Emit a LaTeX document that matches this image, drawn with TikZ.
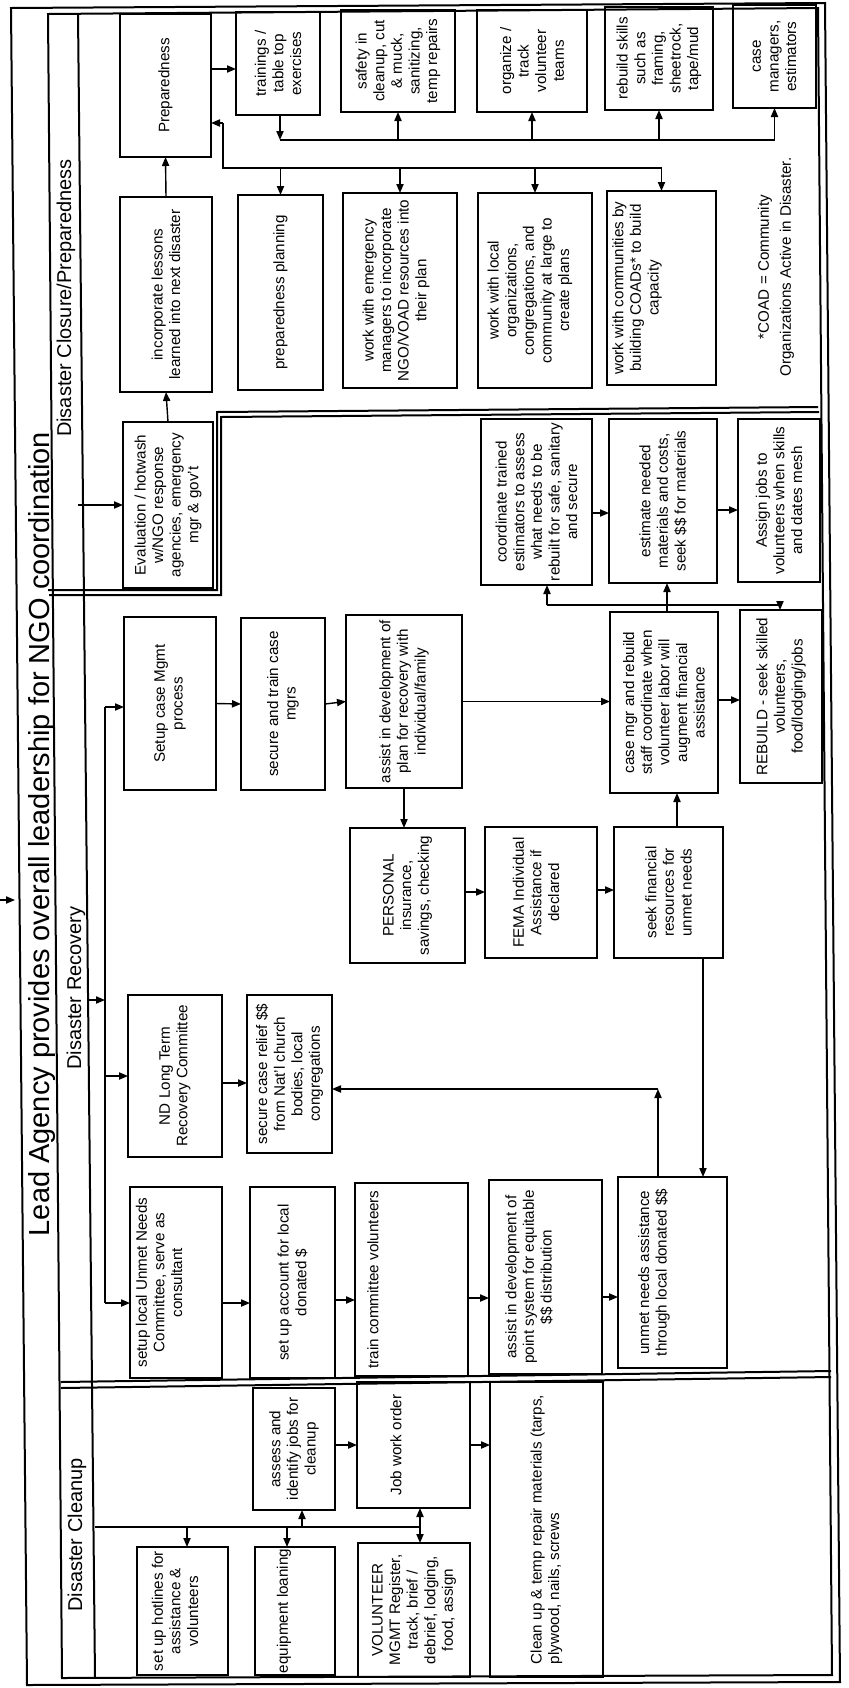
\documentclass[tikz,border=0pt]{standalone}
\usepackage{fontspec}
\setmainfont{Liberation Sans}
\usetikzlibrary{arrows.meta}
\tikzset{
  bx/.style={draw, line width=0.9pt, rotate=90, inner sep=1pt, outer sep=0pt, align=center, font=\fontsize{7.6}{8.8}\selectfont},
  txt/.style={rotate=90, inner sep=0pt, align=center, font=\fontsize{7.6}{8.8}\selectfont},
  arr/.style={line width=0.7pt, -{Triangle[length=4.5pt,width=3.6pt]}},
  darr/.style={line width=0.7pt, {Triangle[length=4.5pt,width=3.6pt]}-{Triangle[length=4.5pt,width=3.6pt]}},
  ln/.style={line width=0.7pt},
  frm/.style={line width=1pt},
  hdr/.style={rotate=90, inner sep=0pt, font=\fontsize{10}{12}\selectfont},
}
% box with text centred
\newcommand\mybox[6]{\node[bx, minimum width={(#5-#3)*0.5pt}, minimum height={(#4-#2)*0.5pt}] (#1) at ({(#2+#4)/2},{(#3+#5)/2}) {#6};}
% box with text centred on a given x
\newcommand\myboxt[7]{\node[bx, minimum width={(#5-#3)*0.5pt}, minimum height={(#4-#2)*0.5pt}] (#1) at ({(#2+#4)/2},{(#3+#5)/2}) {};
  \node[txt] (#1t) at ({#6},{(#3+#5)/2}) {#7};}
\begin{document}
\begin{tikzpicture}[x=0.5pt,y=-0.5pt]
\useasboundingbox (0,0) rectangle (849,1688);
\fill[white] (0,0) rectangle (849,1688);
% frame
\draw[frm] (11,8) -- (825,3) -- (840,1682) -- (27,1685) -- cycle;
\draw[frm] (48,14) -- (818,8) -- (832,1675) -- (62,1678) -- cycle;
\draw[frm] (78,14) -- (95,1678);
% section boundaries
\draw[frm] (48,590) -- (217,590) -- (217,412) -- (818,407);
\draw[frm] (49,595) -- (221,595) -- (221,417) -- (819,412);
\draw[frm] (61,1382) -- (831,1371);
\draw[frm] (61,1388) -- (831,1377);
% titles
\node[rotate=90, inner sep=0pt, font=\fontsize{14.5}{17}\selectfont] (title) at (42,834) {Lead Agency provides overall leadership for NGO coordination};
\node[hdr] (hclos) at (66,298) {Disaster Closure/Preparedness};
\node[hdr] (hrec) at (76,988) {Disaster Recovery};
\node[hdr] (hclean) at (77,1535) {Disaster Cleanup};
\coordinate (inarr) at (0,900);
\draw[arr] (inarr) -- (15,900);
% Closure boxes
\mybox{prep}{120}{14}{211}{157}{Preparedness}
\mybox{train}{236}{12}{320}{115}{trainings /\\ table top\\ exercises}
\mybox{safety}{341}{10}{455}{112}{safety in\\ cleanup, cut\\ \& muck,\\ sanitizing,\\ temp repairs}
\mybox{organize}{477}{10}{587}{112}{organize /\\ track\\ volunteer\\ teams}
\mybox{rebuild}{605}{7}{713}{110}{rebuild skills\\ such as\\ framing,\\ sheetrock,\\ tape/mud}
\mybox{casem}{733}{5}{816}{108}{case\\ managers,\\ estimators}
\mybox{incorp}{120}{197}{212}{392}{incorporate lessons\\ learned into next disaster}
\mybox{pplan}{238}{195}{323}{390}{preparedness planning}
\myboxt{emerg}{343}{193}{457}{388}{396}{work with emergency\\ managers to incorporate\\ NGO/VOAD resources into\\ their plan}
\myboxt{locorg}{478}{193}{592}{388}{530}{work with local\\ organizations,\\ congregations, and\\ community at large to\\ create plans}
\myboxt{comm}{607}{191}{716}{385}{637}{work with communities by\\ building COADs* to build\\ capacity}
\node[rotate=90, align=center, font=\fontsize{7.6}{11}\selectfont] (coadnote) at (776,267) {*COAD = Community\\ Organizations Active in Disaster.};
\mybox{eval}{123}{422}{213}{588}{Evaluation / hotwash\\ w/NGO response\\ agencies, emergency\\ mgr \& gov't}
% Recovery boxes
\mybox{casemg}{124}{617}{216}{790}{Setup case Mgmt\\ process}
\mybox{sectrain}{241}{618}{325}{790}{secure and train case\\ mgrs}
\mybox{assistp}{346}{615}{462}{788}{assist in development of\\ plan for recovery with\\ individual/family}
\mybox{coord}{481}{419}{592}{585}{coordinate trained\\ estimators to assess\\ what needs to be\\ rebuilt for safe, sanitary\\ and secure}
\mybox{estim}{609}{419}{717}{583}{estimate needed\\ materials and costs,\\ seek \$\$ for materials}
\mybox{assign}{738}{419}{820}{582}{Assign jobs to\\ volunteers when skills\\ and dates mesh}
\mybox{casemgr}{610}{612}{718}{793}{case mgr and rebuild\\ staff coordinate when\\ volunteer labor will\\ augment financial\\ assistance}
\mybox{rebuildn}{740}{610}{822}{783}{REBUILD - seek skilled\\ volunteers,\\ food/lodging/jobs}
\mybox{personal}{350}{828}{465}{963}{PERSONAL\\ insurance,\\ savings, checking}
\myboxt{fema}{485}{827}{597}{958}{536}{FEMA Individual\\ Assistance if\\ declared}
\mybox{seekfin}{614}{827}{723}{958}{seek financial\\ resources for\\ unmet needs}
\mybox{ndltr}{128}{995}{222}{1157}{ND Long Term\\ Recovery Committee}
\mybox{secrel}{247}{995}{332}{1153}{secure case relief \$\$\\ from Nat'l church\\ bodies, local\\ congregations}
\myboxt{setloc}{130}{1187}{222}{1378}{159}{setup local Unmet Needs\\ Committee, serve as\\ consultant}
\mybox{account}{250}{1187}{335}{1378}{set up account for local\\ donated \$}
\myboxt{traincom}{355}{1183}{468}{1376}{373}{train committee volunteers}
\myboxt{pointsys}{489}{1180}{602}{1374}{529}{assist in development of\\ point system for equitable\\ \$\$ distribution}
\myboxt{unmet}{618}{1177}{727}{1368}{654}{unmet needs assistance\\ through local donated \$\$}
% Cleanup boxes
\myboxt{hotl}{137}{1547}{228}{1675}{175}{set up hotlines for\\ assistance \&\\ volunteers}
\myboxt{equip}{255}{1547}{335}{1675}{284}{equipment loaning}
\mybox{assess}{253}{1388}{335}{1510}{assess and\\ identify jobs for\\ cleanup}
\myboxt{jobwo}{357}{1382}{470}{1508}{396}{Job work order}
\mybox{volmg}{358}{1543}{470}{1677}{VOLUNTEER\\ MGMT Register,\\ track, brief /\\ debrief, lodging,\\ food, assign}
\node[bx, align=left, minimum width={295*0.5pt}, minimum height={113*0.5pt}] (cleanup) at (546.5,1529.5) {Clean up \& temp repair materials (tarps,\\ plywood, nails, screws};
% Closure connectors
\draw[arr] (prep.south |- 0,69) -- (train.north |- 0,69);
\coordinate (tj) at (280,140);
\draw[arr] (train.west -| tj) -- (tj);
\draw[ln] (tj) -- (casem.west |- tj);
\foreach \n in {safety,organize,rebuild,casem} \draw[arr] (\n.west |- tj) -- (\n.west);
\coordinate (pj1) at (223,123);
\coordinate (pj2) at (223,168);
\draw[arr] (pj1) -- (prep.south |- pj1);
\draw[ln] (pj1) -- (pj2) -- (comm.east |- pj2);
\foreach \n in {pplan,emerg,locorg,comm} \draw[arr] (\n.east |- pj2) -- (\n.east);
\draw[arr] (incorp.east) -- (prep.west);
\draw[arr] (eval.east) -- (incorp.west);
\coordinate (hc) at (78,505);
\draw[arr] (hc) -- (eval.north);
% Recovery connectors
\coordinate (rh) at (88,1000);
\coordinate (rv0) at (105,1000);
\coordinate (rv1) at (105,707);
\coordinate (rv2) at (105,1303);
\draw[arr] (rh) -- (rv0);
\draw[ln] (rv1) -- (rv2);
\draw[arr] (rv1) -- (casemg.north |- rv1);
\draw[arr] (rv1 |- ndltr.north) -- (ndltr.north);
\draw[arr] (rv2) -- (setloc.north |- rv2);
\draw[arr] (casemg.south) -- (sectrain.north);
\draw[arr] (sectrain.south) -- (assistp.north);
\draw[arr] (assistp.south) -- (casemgr.north |- assistp.south);
\draw[arr] (assistp.west) -- (assistp.west |- personal.east);
\draw[arr] (personal.south |- 0,892) -- (fema.north |- 0,892);
\draw[arr] (fema.south |- 0,890) -- (seekfin.north |- 0,890);
\draw[arr] (seekfin.east -| 677,0) -- (casemgr.west -| 677,0);
\draw[arr] (seekfin.west -| 703,0) -- (unmet.east -| 703,0);
\coordinate (uc) at (658,1089);
\draw[arr] (unmet.east -| uc) -- (uc);
\draw[arr] (uc) -- (secrel.south |- uc);
\draw[arr] (ndltr.south |- 0,1083) -- (secrel.north |- 0,1083);
\draw[arr] (setloc.south |- 0,1303) -- (account.north |- 0,1303);
\draw[arr] (account.south |- 0,1300) -- (traincom.north |- 0,1300);
\draw[arr] (traincom.south |- 0,1298) -- (pointsys.north |- 0,1298);
\draw[arr] (pointsys.south |- 0,1297) -- (unmet.north |- 0,1297);
\draw[arr] (casemgr.south |- 0,700) -- (rebuildn.north |- 0,700);
\draw[arr] (coord.south |- 0,513) -- (estim.north |- 0,513);
\draw[arr] (estim.south |- 0,510) -- (assign.north |- 0,510);
\coordinate (cj1) at (547,605);
\coordinate (cj2) at (780,605);
\draw[ln] (cj1) -- (cj2);
\draw[arr] (cj1) -- (coord.west -| cj1);
\draw[arr] (casemgr.east -| 667,0) -- (estim.west -| 667,0);
\draw[arr] (cj2) -- (rebuildn.east -| cj2);
% Cleanup connectors
\coordinate (cl1) at (95,1527);
\coordinate (cl2) at (420,1527);
\draw[ln] (cl1) -- (cl2);
\draw[arr] (187,1527) -- (hotl.east -| 187,0);
\draw[arr] (287,1527) -- (equip.east -| 287,0);
\draw[arr] (302,1527) -- (assess.west -| 302,0);
\draw[darr] (jobwo.west -| cl2) -- (volmg.east -| cl2);
\draw[arr] (jobwo.south |- 0,1445) -- (cleanup.north |- 0,1445);
\draw[arr] (assess.south |- 0,1445) -- (jobwo.north |- 0,1445);
\end{tikzpicture}
\end{document}
